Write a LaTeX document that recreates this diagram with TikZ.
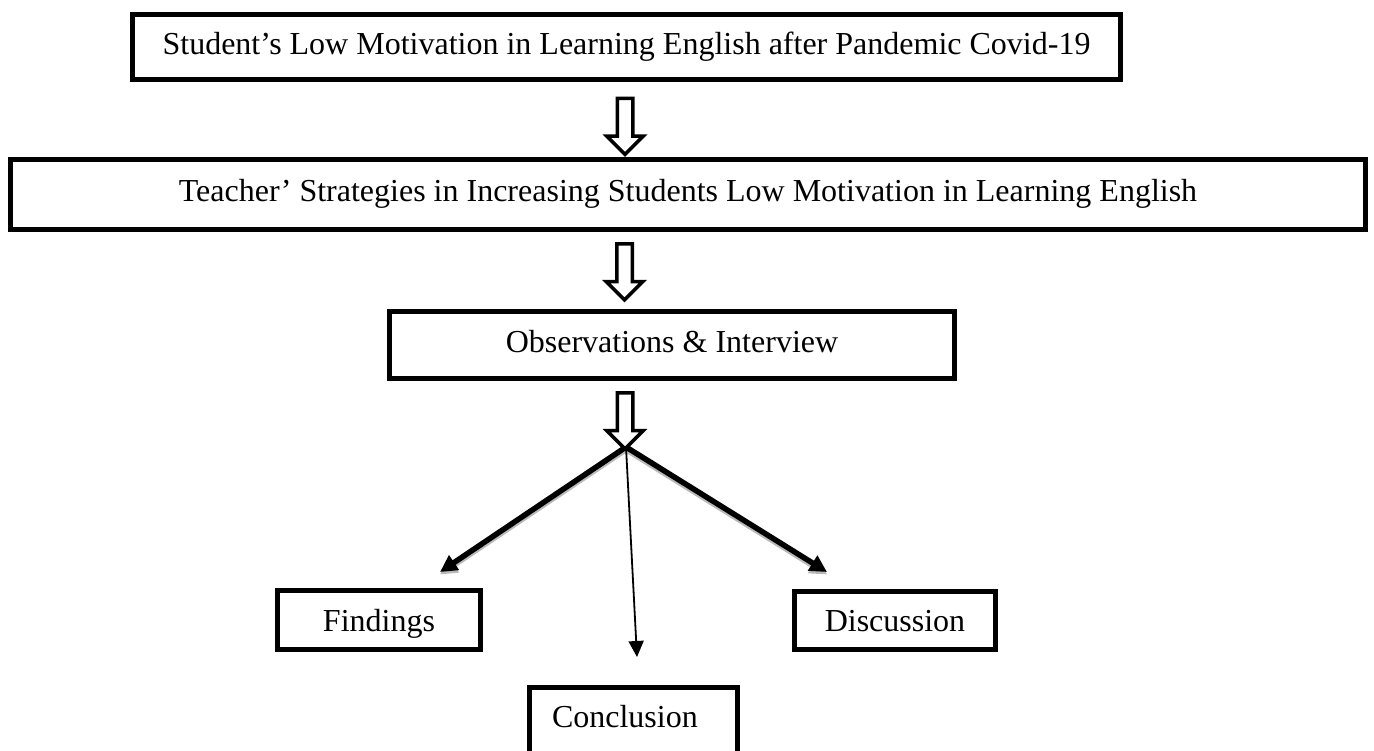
\documentclass[tikz,border=0pt]{standalone}
\usepackage{fontspec}
\setmainfont{Liberation Serif}
\usetikzlibrary{arrows.meta,calc,shapes.arrows}

\tikzset{
  stepbox/.style={draw, line width=5pt, inner sep=0pt,
    font=\fontsize{32}{38}\selectfont, text height=22pt, text depth=7pt},
  endbox/.style={stepbox, text depth=0pt},
  hollow/.style={single arrow, draw, line width=3.5pt, fill=white, inner sep=6pt,
    minimum height=56pt, single arrow head extend=10.5pt, shape border rotate=270},
  thickarrow/.style={line width=5.5pt, -{Triangle[length=17pt,width=17pt]},
    preaction={draw=gray!55, line width=5.5pt, transform canvas={yshift=-2.5pt}}},
  thinarrow/.style={line width=1.8pt, -{Triangle[length=16pt,width=15pt]}}
}

\begin{document}
\begin{tikzpicture}[x=1pt,y=-1pt]

\clip (0,0) rectangle (1374,751);

\node[stepbox, minimum width=988pt, minimum height=65pt] (prob) at (626.5,47)
  {Student's Low Motivation in Learning English after Pandemic Covid-19};
\node[stepbox, minimum width=1355pt, minimum height=70pt] (strat) at (688,194.5)
  {Teacher' Strategies in Increasing Students Low Motivation in Learning English};
\node[stepbox, minimum width=565pt, minimum height=67pt] (obs) at (672,345)
  {Observations \& Interview};

\node[endbox, minimum width=203pt, minimum height=59pt] (find) at (379,620) {Findings};
\node[endbox, minimum width=201pt, minimum height=58pt] (disc) at (895,620.5) {Discussion};
\node[stepbox, text depth=24pt, inner ysep=17.5pt, inner xsep=22.5pt,
  text width=163pt, align=left, anchor=base] (concl) at (633.5,727) {Conclusion};

\coordinate (junc) at (626,447);
\coordinate (tipF) at (440,572);
\coordinate (tipD) at (827,572);
\coordinate (tipC) at (637,657);

\draw[thickarrow] (junc) -- (tipF);
\draw[thickarrow] (junc) -- (tipD);
\draw[thinarrow] (junc) -- (tipC);

\node[hollow] (ar1) at (625,122.5) {};
\node[hollow] (ar2) at (624.5,268) {};
\node[hollow] (ar3) at (625,417) {};

\end{tikzpicture}
\end{document}
